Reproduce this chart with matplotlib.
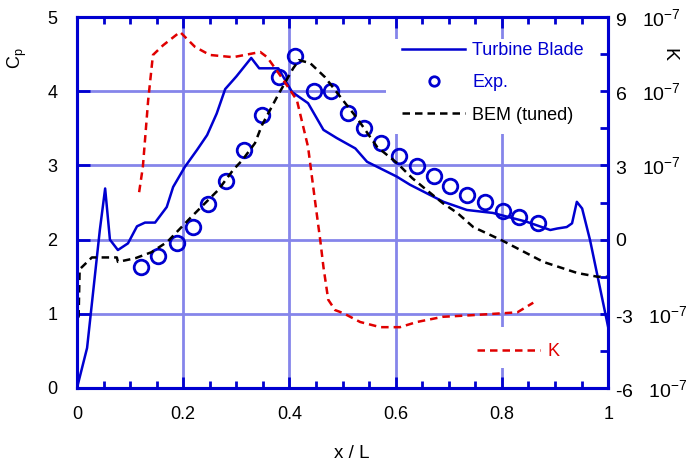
"""Pressure coefficient along the blade, with K on a second axis."""
import matplotlib
matplotlib.use("Agg")
import matplotlib.pyplot as plt
from matplotlib.patches import Rectangle
from matplotlib.ticker import MultipleLocator, FuncFormatter

plt.rcParams["font.family"] = ["Liberation Sans", "DejaVu Sans"]
plt.rcParams["mathtext.default"] = "regular"
plt.rcParams["axes.unicode_minus"] = False

BLUE = "#0000d0"
RED = "#e00000"
GRID = "#8585ea"

# Turbine Blade (solid line)
blade_x = [0.0, 0.019, 0.043, 0.053, 0.062, 0.077, 0.096, 0.113, 0.128, 0.147,
           0.169, 0.181, 0.203, 0.226, 0.245, 0.263, 0.279, 0.300, 0.328, 0.343,
           0.379, 0.405, 0.435, 0.464, 0.489, 0.524, 0.546, 0.602, 0.627, 0.690,
           0.734, 0.783, 0.847, 0.891, 0.904, 0.922, 0.932, 0.941, 0.951, 0.966,
           1.0]
blade_cp = [0.0, 0.54, 2.13, 2.69, 2.00, 1.86, 1.95, 2.18, 2.23, 2.23,
            2.44, 2.71, 2.98, 3.21, 3.41, 3.70, 4.03, 4.20, 4.45, 4.31,
            4.31, 3.99, 3.84, 3.48, 3.37, 3.23, 3.05, 2.85, 2.74, 2.51,
            2.40, 2.36, 2.24, 2.13, 2.15, 2.17, 2.22, 2.51, 2.42, 1.99,
            0.82]

# Exp. (open circles)
exp_x = [0.120, 0.152, 0.188, 0.219, 0.247, 0.281, 0.315, 0.348, 0.381, 0.411,
         0.446, 0.478, 0.510, 0.540, 0.572, 0.606, 0.640, 0.672, 0.702, 0.734,
         0.768, 0.802, 0.832, 0.868]
exp_cp = [1.63, 1.78, 1.96, 2.17, 2.48, 2.79, 3.21, 3.68, 4.19, 4.47,
          4.00, 4.00, 3.71, 3.50, 3.30, 3.13, 2.99, 2.86, 2.72, 2.60,
          2.51, 2.39, 2.31, 2.23]

# BEM (tuned) (black dashed)
bem_x = [0.003, 0.005, 0.028, 0.075, 0.077, 0.110, 0.140, 0.170, 0.213, 0.266,
         0.294, 0.311, 0.335, 0.348, 0.377, 0.407, 0.418, 0.439, 0.467, 0.505,
         0.527, 0.565, 0.603, 0.631, 0.665, 0.689, 0.716, 0.746, 0.791, 0.800,
         0.878, 0.942, 0.980, 1.0]
bem_cp = [0.95, 1.60, 1.76, 1.76, 1.70, 1.75, 1.83, 1.97, 2.29, 2.67,
          2.94, 3.07, 3.30, 3.54, 3.93, 4.31, 4.42, 4.38, 4.19, 3.84,
          3.64, 3.25, 3.03, 2.83, 2.63, 2.49, 2.36, 2.17, 2.02, 1.99,
          1.70, 1.55, 1.50, 1.50]

# K (red dashed, right axis, units of 1e-7)
k_x = [0.117, 0.124, 0.134, 0.143, 0.162, 0.194, 0.222, 0.250, 0.294, 0.345,
       0.358, 0.382, 0.414, 0.435, 0.448, 0.458, 0.464, 0.473, 0.486, 0.501,
       0.533, 0.571, 0.608, 0.640, 0.689, 0.740, 0.829, 0.859]
k_val = [1.92, 2.94, 5.64, 7.47, 7.86, 8.40, 7.80, 7.47, 7.38, 7.59,
         7.38, 6.66, 5.64, 3.75, 1.59, -0.03, -1.11, -2.43, -2.85, -2.97,
         -3.33, -3.54, -3.54, -3.33, -3.12, -3.06, -2.94, -2.55]


def right_label(v, pos):
    if abs(v) < 1e-9:
        return "0"
    return f"{v:g}   $10^{{-7}}$"


fig = plt.figure(figsize=(6.98, 4.63), dpi=100)
ax = fig.add_axes([0.1103, 0.162, 0.761, 0.801])
ax2 = ax.twinx()

ax.set_axisbelow(True)
ax.grid(True, which="major", color=GRID, lw=2)

# white boxes behind the legends
ax.add_patch(Rectangle((0.582, 0.685), 0.418, 0.255, transform=ax.transAxes,
                       facecolor="white", edgecolor="none", zorder=1))
ax.add_patch(Rectangle((0.74, 0.054), 0.24, 0.11, transform=ax.transAxes,
                       facecolor="white", edgecolor="none", zorder=1))

ax.plot(blade_x, blade_cp, color=BLUE, lw=1.8, label="Turbine Blade")
ax.plot(exp_x, exp_cp, "o", mfc="none", mec=BLUE, ms=10.5, mew=2, label="Exp.")
ax.plot(bem_x, bem_cp, color="black", lw=1.8, dashes=(3, 2), label="BEM (tuned)")
k_line, = ax2.plot(k_x, k_val, color=RED, lw=1.8, dashes=(3, 2), label="K")

ax.set_xlim(0, 1)
ax.set_ylim(0, 5)
ax2.set_ylim(-6, 9)

ax.xaxis.set_major_locator(MultipleLocator(0.2))
ax.xaxis.set_minor_locator(MultipleLocator(0.05))
ax.xaxis.set_major_formatter(FuncFormatter(lambda v, p: f"{v:g}"))
ax.yaxis.set_major_locator(MultipleLocator(1))
ax2.yaxis.set_major_locator(MultipleLocator(3))
ax2.yaxis.set_minor_locator(MultipleLocator(1.5))
ax2.yaxis.set_major_formatter(FuncFormatter(right_label))

ax.tick_params(axis="x", which="major", direction="in", top=True, length=8,
               width=2, color=BLUE, labelsize=13, pad=13)
ax.tick_params(axis="x", which="minor", direction="in", top=True, length=5,
               width=2, color=BLUE)
ax.tick_params(axis="y", which="major", direction="in", length=9, width=2,
               color=BLUE, labelsize=13, pad=14)
ax2.tick_params(axis="y", which="both", direction="in", length=6, width=2,
                color=BLUE, labelsize=14, pad=5)

for a in (ax, ax2):
    for sp in a.spines.values():
        sp.set_color(BLUE)
        sp.set_linewidth(2.2)

ax.set_xlabel("x / L", fontsize=13.5)
ax.xaxis.set_label_coords(0.518, -0.155)
ax.set_ylabel("C$_p$", fontsize=13)
ax.yaxis.set_label_coords(-0.09, 0.89)
ax2.set_ylabel("K", fontsize=14, rotation=-90)
ax2.yaxis.set_label_coords(1.13, 0.90)

leg = ax.legend(loc="upper left", bbox_to_anchor=(0.612, 0.933), frameon=False,
                fontsize=13, handlelength=3.5, handletextpad=0.4,
                labelspacing=0.85, borderpad=0, borderaxespad=0,
                markerscale=0.65, labelcolor=[BLUE, BLUE, "black"])
ax2.legend(handles=[k_line], loc="upper left", bbox_to_anchor=(0.753, 0.12),
           frameon=False, fontsize=13, handlelength=3.5, handletextpad=0.4,
           borderpad=0, borderaxespad=0, labelcolor=[RED])

fig.savefig("out.png", dpi=100)
